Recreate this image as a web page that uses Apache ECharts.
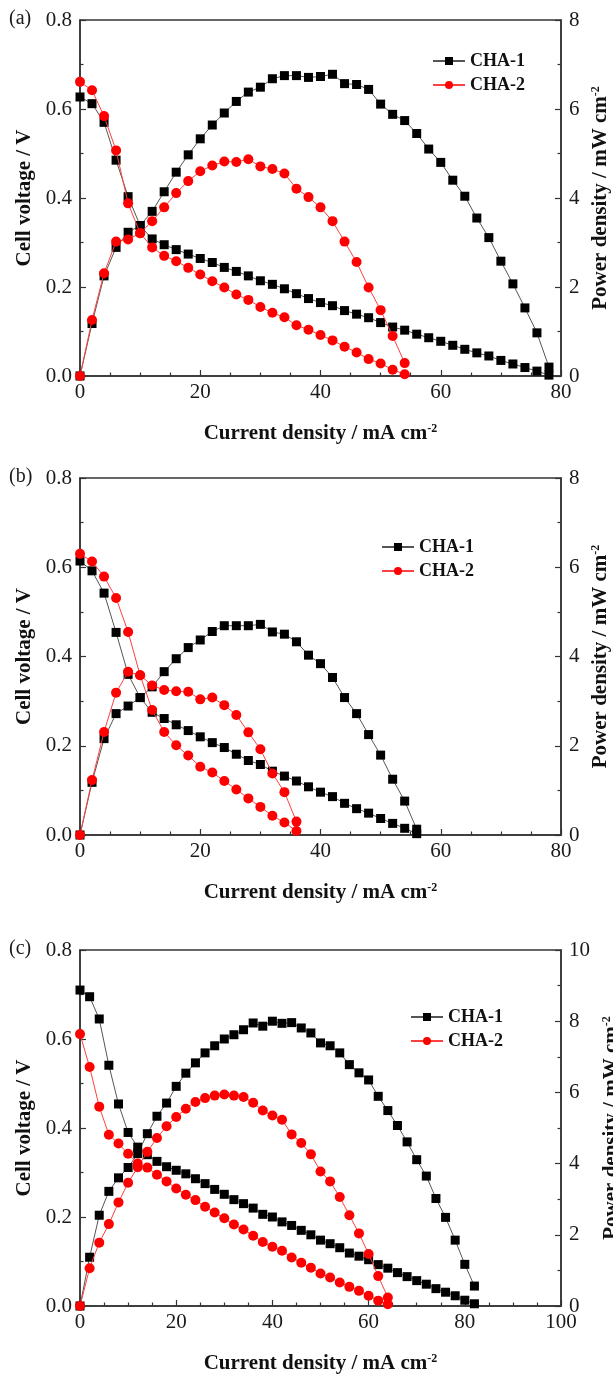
<!DOCTYPE html>
<html><head><meta charset="utf-8">
<script src="https://cdn.jsdelivr.net/npm/echarts@6/dist/echarts.min.js"></script>
<style>html,body{margin:0;padding:0;background:#fff}#c{width:613px;height:1377px}</style>
</head><body><div id="c"></div>
<script>
// ---------- Panel (a) ----------
const xA1 = [0,2,4,6,8,10,12,14,16,18,20,22,24,26,28,30,32,34,36,38,40,42,44,46,48,50,52,54,56,58,60,62,64,66,68,70,72,74,76,78];
const vA1 = [0.627,0.612,0.570,0.485,0.403,0.338,0.308,0.295,0.284,0.274,0.264,0.255,0.244,0.235,0.225,0.214,0.206,0.196,0.185,0.174,0.165,0.158,0.147,0.139,0.131,0.120,0.110,0.103,0.094,0.086,0.078,0.069,0.060,0.052,0.045,0.035,0.027,0.019,0.011,0.002];
const pA1 = [0,1.18,2.25,2.89,3.23,3.38,3.70,4.14,4.58,4.97,5.33,5.64,5.91,6.17,6.38,6.49,6.68,6.75,6.75,6.71,6.73,6.78,6.57,6.55,6.44,6.11,5.88,5.74,5.45,5.10,4.80,4.40,4.04,3.55,3.11,2.58,2.07,1.53,0.97,0.20];
const xA2 = [0,2,4,6,8,10,12,14,16,18,20,22,24,26,28,30,32,34,36,38,40,42,44,46,48,50,52,54];
const vA2 = [0.661,0.642,0.584,0.507,0.388,0.321,0.289,0.270,0.258,0.243,0.228,0.213,0.199,0.183,0.171,0.155,0.142,0.132,0.114,0.104,0.092,0.080,0.066,0.053,0.038,0.028,0.014,0.004];
const pA2 = [0,1.26,2.31,3.02,3.07,3.21,3.48,3.79,4.11,4.38,4.60,4.73,4.82,4.81,4.87,4.71,4.65,4.55,4.21,4.02,3.79,3.48,3.02,2.56,1.99,1.48,0.90,0.29];
// ---------- Panel (b) ----------
const xB1 = [0,2,4,6,8,10,12,14,16,18,20,22,24,26,28,30,32,34,36,38,40,42,44,46,48,50,52,54,56];
const vB1 = [0.614,0.592,0.542,0.454,0.360,0.308,0.275,0.261,0.247,0.234,0.220,0.207,0.196,0.181,0.167,0.158,0.143,0.132,0.121,0.108,0.096,0.086,0.071,0.059,0.049,0.037,0.026,0.015,0.003];
const pB1 = [0,1.18,2.16,2.72,2.89,3.08,3.32,3.66,3.95,4.20,4.37,4.56,4.69,4.69,4.69,4.72,4.55,4.50,4.33,4.03,3.84,3.53,3.08,2.72,2.25,1.79,1.25,0.76,0.13];
const xB2 = [0,2,4,6,8,10,12,14,16,18,20,22,24,26,28,30,32,34,36];
const vB2 = [0.630,0.613,0.579,0.531,0.455,0.358,0.280,0.231,0.201,0.178,0.153,0.140,0.121,0.102,0.082,0.063,0.043,0.028,0.009];
const pB2 = [0,1.23,2.31,3.19,3.66,3.58,3.35,3.25,3.22,3.21,3.04,3.08,2.91,2.69,2.30,1.92,1.38,0.96,0.30];
// ---------- Panel (c) ----------
const xC1 = [0,2,4,6,8,10,12,14,16,18,20,22,24,26,28,30,32,34,36,38,40,42,44,46,48,50,52,54,56,58,60,62,64,66,68,70,72,74,76,78,80,82];
const vC1 = [0.710,0.695,0.645,0.541,0.454,0.390,0.357,0.340,0.325,0.313,0.305,0.297,0.286,0.275,0.262,0.251,0.239,0.230,0.220,0.206,0.200,0.189,0.181,0.170,0.160,0.148,0.140,0.131,0.119,0.112,0.104,0.093,0.085,0.075,0.066,0.057,0.049,0.039,0.031,0.023,0.013,0.005];
const pC1 = [0,1.37,2.55,3.22,3.60,3.89,4.28,4.84,5.33,5.70,6.17,6.54,6.83,7.11,7.31,7.50,7.62,7.76,7.95,7.86,8.00,7.94,7.96,7.81,7.67,7.39,7.31,7.11,6.78,6.55,6.35,5.89,5.49,5.07,4.61,4.11,3.65,3.02,2.49,1.85,1.17,0.56];
const xC2 = [0,2,4,6,8,10,12,14,16,18,20,22,24,26,28,30,32,34,36,38,40,42,44,46,48,50,52,54,56,58,60,62,64];
const vC2 = [0.611,0.537,0.448,0.385,0.365,0.342,0.320,0.311,0.295,0.280,0.264,0.250,0.238,0.223,0.210,0.197,0.183,0.172,0.158,0.144,0.133,0.124,0.109,0.097,0.086,0.073,0.064,0.053,0.043,0.034,0.023,0.012,0.004];
const pC2 = [0,1.06,1.78,2.30,2.91,3.46,3.90,4.33,4.72,5.05,5.31,5.54,5.73,5.84,5.91,5.94,5.91,5.87,5.71,5.49,5.35,5.23,4.82,4.58,4.26,3.78,3.50,3.06,2.55,2.04,1.46,0.84,0.24];

const panelTags = ['(a)','(b)','(c)'];
const xMaxes = [80, 80, 100];
const pMaxes = [8, 8, 10];

const FONT = '"Liberation Serif","Times New Roman",serif';
const chart = echarts.init(document.getElementById('c'), null, {renderer:'canvas'});

const panels = [
  {top:20, height:356, legend:{left:427, top:47}, gapR:29, s1:[xA1,vA1,pA1], s2:[xA2,vA2,pA2]},
  {top:478, height:357, legend:{left:376, top:533}, gapR:29, s1:[xB1,vB1,pB1], s2:[xB2,vB2,pB2]},
  {top:950, height:356, legend:{left:405, top:1003}, gapR:38, s1:[xC1,vC1,pC1], s2:[xC2,vC2,pC2]}
];

const zip = (xs, ys) => xs.map((x, i) => [x, ys[i]]);
const axisLine = {show:true, lineStyle:{color:'#333', width:1.5}};
const labelStyle = {fontFamily:FONT, fontSize:21, color:'#1a1a1a'};
const nameRich = {
  t:{fontFamily:FONT, fontSize:21, fontWeight:'bold', color:'#111'},
  s:{fontFamily:FONT, fontSize:12, fontWeight:'bold', color:'#111', verticalAlign:'top'}
};
const tickStyle = {color:'#333', width:1.2};

const grid = [], xAxis = [], yAxis = [], series = [], legend = [], graphic = [];
panels.forEach((p, i) => {
  grid.push({left:80, width:481, top:p.top, height:p.height, show:true, borderColor:'#333', borderWidth:1.5,
    backgroundColor:'transparent', containLabel:false, outerBoundsMode:'none'});
  xAxis.push({
    gridIndex:i, type:'value', min:0, max:xMaxes[i], interval:20,
    axisLine, axisTick:{inside:true, length:6, lineStyle:tickStyle},
    minorTick:{show:true, splitNumber:4, length:3.5, lineStyle:tickStyle},
    splitLine:{show:false}, axisLabel:Object.assign({margin:6}, labelStyle),
    name:'{t|Current density / mA cm}{s|-2}', nameLocation:'middle', nameGap:47,
    nameTextStyle:{rich:nameRich}
  });
  yAxis.push({
    gridIndex:i, type:'value', position:'left', min:0, max:0.8, interval:0.2,
    axisLine, axisTick:{inside:true, length:6, lineStyle:tickStyle},
    minorTick:{show:true, splitNumber:2, length:3.5, lineStyle:tickStyle},
    splitLine:{show:false},
    axisLabel:Object.assign({margin:8, formatter:v => v.toFixed(1)}, labelStyle),
    name:'Cell voltage / V', nameLocation:'middle', nameRotate:90, nameGap:44,
    nameTextStyle:{fontFamily:FONT, fontSize:21, fontWeight:'bold', color:'#111'}
  });
  yAxis.push({
    gridIndex:i, type:'value', position:'right', min:0, max:pMaxes[i], interval:2,
    axisLine, axisTick:{inside:true, length:6, lineStyle:tickStyle},
    minorTick:{show:true, splitNumber:2, length:3.5, lineStyle:tickStyle},
    splitLine:{show:false}, axisLabel:Object.assign({margin:8}, labelStyle),
    name:'{t|Power density / mW cm}{s|-2}', nameLocation:'middle', nameRotate:90, nameGap:p.gapR,
    nameTextStyle:{rich:nameRich}
  });
  const mk1 = (data, yi) => ({
    name:'CHA-1', type:'line', xAxisIndex:i, yAxisIndex:yi, data, symbol:'rect', symbolSize:9,
    itemStyle:{color:'#000'}, lineStyle:{color:'#555', width:1}, z:2
  });
  const mk2 = (data, yi) => ({
    name:'CHA-2', type:'line', xAxisIndex:i, yAxisIndex:yi, data, symbol:'circle', symbolSize:10,
    itemStyle:{color:'#ff0000'}, lineStyle:{color:'#ff4040', width:1}, z:3
  });
  series.push(mk1(zip(p.s1[0], p.s1[1]), 2*i));
  series.push(mk1(zip(p.s1[0], p.s1[2]), 2*i+1));
  series.push(mk2(zip(p.s2[0], p.s2[1]), 2*i));
  series.push(mk2(zip(p.s2[0], p.s2[2]), 2*i+1));
  legend.push({
    orient:'vertical', left:p.legend.left, top:p.legend.top, itemWidth:32, itemHeight:10, itemGap:6,
    data:['CHA-1','CHA-2'], selectedMode:false,
    textStyle:{fontFamily:FONT, fontWeight:'bold', fontSize:18, color:'#111'}
  });
  graphic.push({type:'text', left:9, top:p.top - 11,
    style:{text:panelTags[i], font:'20px "Liberation Serif"', fill:'#1a1a1a'}});
});

chart.setOption({animation:false, backgroundColor:'#fff', grid, xAxis, yAxis, series, legend, graphic});
</script></body></html>
